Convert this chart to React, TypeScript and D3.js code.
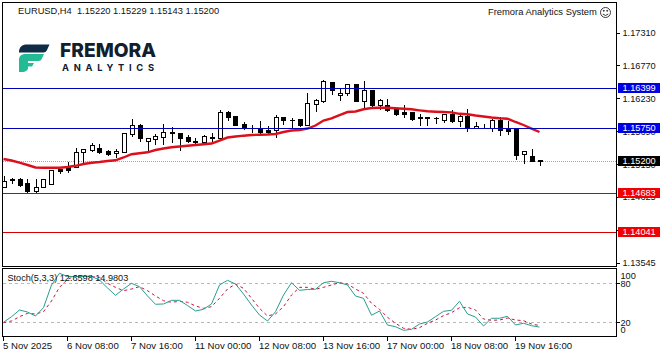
import React from "react";
import * as d3 from "d3";

const opens = [1.14786,1.14912,1.14912,1.14842,1.14721,1.14786,1.14825,1.15076,1.15113,1.15113,1.15346,1.15387,1.15414,1.1537,1.15333,1.15359,1.15648,1.15791,1.15529,1.15562,1.15604,1.15676,1.1566,1.15594,1.15517,1.15522,1.15604,1.15588,1.16008,1.15938,1.15807,1.15742,1.1573,1.15714,1.15709,1.15927,1.15882,1.15894,1.15801,1.16144,1.16188,1.16504,1.16282,1.16324,1.16462,1.16193,1.16368,1.16128,1.16123,1.16053,1.16008,1.16008,1.15922,1.15927,1.15913,1.15877,1.15976,1.15866,1.15948,1.15742,1.15742,1.15751,1.15877,1.15742,1.15742,1.15316,1.15288,1.1522];
const highs = [1.14977,1.14937,1.1494,1.14923,1.14923,1.14923,1.15071,1.15076,1.15211,1.15431,1.15414,1.15513,1.15496,1.15398,1.15424,1.15686,1.15905,1.15824,1.15594,1.1566,1.15824,1.15779,1.15686,1.15648,1.15594,1.15643,1.15686,1.16058,1.16041,1.15938,1.15856,1.15807,1.15877,1.15791,1.15976,1.15932,1.15932,1.15915,1.16331,1.16237,1.16548,1.16521,1.16422,1.16478,1.16478,1.16532,1.16368,1.16242,1.16233,1.16069,1.16139,1.1603,1.15987,1.15932,1.15943,1.15987,1.16053,1.15987,1.16069,1.15861,1.15833,1.15905,1.15948,1.15873,1.15742,1.15387,1.15424,1.15229];
const lows = [1.14786,1.14847,1.14802,1.14704,1.14688,1.14776,1.14825,1.15015,1.15031,1.15113,1.15179,1.15375,1.15342,1.15305,1.15277,1.15359,1.15616,1.15539,1.15375,1.15485,1.15485,1.15522,1.15387,1.15522,1.15468,1.15506,1.15539,1.15588,1.15877,1.15801,1.15735,1.15681,1.1566,1.1566,1.15604,1.15812,1.15768,1.15784,1.15801,1.1603,1.16172,1.16298,1.16205,1.16282,1.16193,1.16069,1.16069,1.16058,1.1603,1.15954,1.15932,1.15877,1.15796,1.15796,1.15828,1.1584,1.1585,1.15784,1.15702,1.15742,1.15742,1.15697,1.15632,1.15653,1.15239,1.15169,1.15211,1.15143];
const closes = [1.14884,1.14899,1.14814,1.14721,1.14786,1.14907,1.15059,1.15043,1.15059,1.15349,1.15398,1.15468,1.15349,1.15321,1.1537,1.1566,1.15791,1.15588,1.15578,1.15616,1.15676,1.1566,1.15583,1.15534,1.15529,1.15611,1.15588,1.16003,1.15932,1.15801,1.15747,1.15741,1.15681,1.15681,1.15922,1.15882,1.15873,1.15796,1.16151,1.162,1.16516,1.16363,1.16314,1.16462,1.16193,1.16368,1.16123,1.162,1.16041,1.15971,1.15981,1.15889,1.15905,1.15905,1.15904,1.15971,1.15856,1.15948,1.15742,1.15774,1.15751,1.15873,1.15714,1.15702,1.15305,1.1537,1.15211,1.152];
const movingAverage = [1.15239,1.15215,1.15179,1.15141,1.151,1.15095,1.15095,1.15097,1.15108,1.15128,1.15157,1.15177,1.1519,1.15207,1.15218,1.15264,1.15318,1.15334,1.15349,1.15387,1.15411,1.15431,1.15444,1.15457,1.15468,1.15481,1.15493,1.15542,1.15591,1.15607,1.15621,1.15632,1.15637,1.1564,1.15648,1.15681,1.15706,1.15714,1.15738,1.15787,1.15869,1.15905,1.15959,1.16008,1.16017,1.16054,1.16074,1.16077,1.16079,1.16071,1.16062,1.16053,1.16036,1.1602,1.16013,1.16008,1.16003,1.15979,1.15971,1.15951,1.15935,1.15918,1.15907,1.15899,1.15845,1.15796,1.15738,1.15681];
const stochMain = [20,28.6,38.9,35.8,29.7,42.5,77.4,95.4,90.5,90.5,90.5,90.5,85.1,72.8,61.5,71.2,80,74.8,60.5,47.7,48.2,53.8,53.8,45.8,37.4,40,48.2,77.4,84.6,78.9,63.5,46.6,31.2,22,36.3,62,80.9,69.2,70.5,70.8,80.9,83.1,80.9,77.4,60.5,56.9,30.8,37.4,15.8,13.2,7.7,9.2,17.4,20.5,28.6,36.9,38.5,52.3,32.8,28.2,14.3,26.2,26.2,29.2,15.8,18.5,14.8,12.66];
const stochSignal = [19.4,22,28.6,33.8,32.8,36.3,52.8,73.8,86.2,91.2,91.2,90.2,89.2,80,73.8,68.6,71.2,74.8,68.6,60.5,53.2,50.8,52.3,50.8,45.1,41.5,44,56.9,71.2,78.9,72.3,56.9,41.5,29.7,32.8,44,62,73.8,73.8,70.8,73.8,77.4,80.9,78.9,71.2,64.6,49.2,40,27.7,18.5,10.8,9.2,11.7,18.5,23.5,30.2,34.8,42.5,43.1,38.9,25.1,23.1,23.5,26.6,23.5,22.5,17.4,14.98];
const priceTicks = ["1.17310","1.16770","1.16230","1.15690","1.15150","1.14625","1.14085","1.13545"];
const blueLevels = [1.16399, 1.1575];
const redLevels = [1.14683, 1.14041];
const lastPrice = 1.152;
const timeLabels = ["5 Nov 2025","6 Nov 08:00","7 Nov 16:00","11 Nov 00:00","12 Nov 08:00","13 Nov 16:00","17 Nov 00:00","18 Nov 08:00","19 Nov 16:00"];
const timeTickEvery = 8;
const stochLevels = [80, 20];
const stochTicks = [{ label: "100", y: 275.5 }, { label: "80", y: 283.5 }, { label: "20", y: 322.5 }, { label: "0", y: 330 }];

const W = 662, H = 357;
const L = 2.5, R = 616.5, T = 2.5, MB = 266.5, ST = 268.5, SB = 336.5;
const FONT = "'Liberation Sans', Arial, sans-serif";
const FS = 9.6;
const FS_PRICE = 9.2;

const x = d3.scaleLinear().domain([0, 67]).range([3.5, 539.5]);
const y = d3.scaleLinear().domain([1.1731, 1.152]).range([32.5, 161.4]);
const s = d3.scaleLinear().domain([0, 100]).range([335.3, 270.3]);
const px = (v: number) => Math.round(v) + 0.5;
const idx = d3.range(opens.length);

const maLine = d3.line<number>().x((_, i) => x(i)).y((d) => y(d)).curve(d3.curveLinear);
const stLine = d3.line<number>().x((_, i) => x(i)).y((d) => s(d)).curve(d3.curveLinear);

function Tag({ value, fill }: { value: number; fill: string }) {
  const cy = px(y(value));
  return (
    <g>
      <rect x={618} y={cy - 5.5} width={42} height={10} fill={fill} />
      <text x={622.5} y={cy - 0.5} dominantBaseline="central" fontSize={FS_PRICE} fill="#fff" fontFamily={FONT}>
        {value.toFixed(5)}
      </text>
    </g>
  );
}

export default function App() {
  return (
    <svg width={W} height={H} viewBox={`0 0 ${W} ${H}`} style={{ position: "absolute", left: 0, top: 0, display: "block", background: "#fff" }}>
      {/* last price dotted */}
      <line x1={L} x2={R} y1={px(y(lastPrice))} y2={px(y(lastPrice))} stroke="#a8a8a8" strokeDasharray="1 1" shapeRendering="crispEdges" />

      {/* candles */}
      <g shapeRendering="crispEdges">
        {idx.map((i) => {
          const up = closes[i] >= opens[i];
          const top = px(y(Math.max(opens[i], closes[i])));
          const bot = px(y(Math.min(opens[i], closes[i])));
          const cx = Math.round(x(i)) + 0.5;
          return (
            <g key={i}>
              <line x1={cx} x2={cx} y1={px(y(highs[i]))} y2={px(y(lows[i]))} stroke="#000" />
              {top === bot ? (
                <line x1={cx - 2.5} x2={cx + 2.5} y1={top} y2={top} stroke="#000" />
              ) : (
                <rect x={cx - 2} y={top} width={4} height={bot - top} fill={up ? "#fff" : "#000"} stroke="#000" />
              )}
            </g>
          );
        })}
      </g>

      {/* moving average */}
      <path d={maLine(movingAverage) ?? ""} fill="none" stroke="#dc0f1c" strokeWidth={2.4} />

      {/* horizontal levels */}
      <g shapeRendering="crispEdges">
        {blueLevels.map((v) => (
          <line key={v} x1={L} x2={R} y1={px(y(v))} y2={px(y(v))} stroke="#0000b4" />
        ))}
        {redLevels.map((v) => (
          <line key={v} x1={L} x2={R} y1={px(y(v))} y2={px(y(v))} stroke="#d40000" />
        ))}
      </g>

      {/* logo */}
      <g>
        <path d="M19 52.5 C19 47 22 44.5 27 44.5 L49.5 44.5 L47 50 C46.4 51.6 45.4 52.5 43.5 52.5 Z" fill="#0f2b46" />
        <path d="M19 72 L19 60 C19 56 21.5 54 25.5 54 L44 54 L41.6 59.3 C41 60.6 40 61 38.5 61 L28 61 L28 63 L34 63 L32 66.5 L28 66.5 L28 68 C28 70.5 25 72 22 72 Z" fill="#22bb94" />
        <text x={60} y={57} fontFamily="Inter, 'Liberation Sans', sans-serif" fontWeight={800} fontSize={19.2} fill="#10202e">FREMORA</text>
        <text x={62} y={71} fontFamily="Inter, 'Liberation Sans', sans-serif" fontWeight={700} fontSize={9.3} letterSpacing={4.75} fill="#10202e">ANALYTICS</text>
      </g>

      {/* header */}
      <text x={18} y={10.5} dominantBaseline="central" fontSize={9.3} fontFamily={FONT} fill="#111" xmlSpace="preserve">
        {`EURUSD,H4  ${opens[67].toFixed(5)} ${highs[67].toFixed(5)} ${lows[67].toFixed(5)} ${closes[67].toFixed(5)}`}
      </text>
      <text x={488} y={11.5} dominantBaseline="central" fontSize={9.4} fontFamily={FONT} fill="#111">Fremora Analytics System</text>
      <g fill="none" stroke="#222" strokeWidth={0.9}>
        <circle cx={605.5} cy={12.5} r={5} />
        <path d="M602.8 14 Q605.5 17 608.2 14" />
        <circle cx={603.8} cy={10.8} r={0.5} fill="#222" />
        <circle cx={607.2} cy={10.8} r={0.5} fill="#222" />
      </g>

      {/* stochastic */}
      <g shapeRendering="crispEdges">
        {stochLevels.map((v) => (
          <line key={v} x1={L} x2={R} y1={px(s(v))} y2={px(s(v))} stroke="#b8b8b8" strokeDasharray="3 3" />
        ))}
      </g>
      <path d={stLine(stochSignal) ?? ""} fill="none" stroke="#c8143c" strokeWidth={1} strokeDasharray="3 3" />
      <path d={stLine(stochMain) ?? ""} fill="none" stroke="#2a9d8f" strokeWidth={1} />
      <text x={7.5} y={277.5} dominantBaseline="central" fontSize={9.15} fontFamily={FONT} fill="#111">Stoch(5,3,3) 12.6598 14.9803</text>

      {/* frames */}
      <g fill="none" stroke="#000" shapeRendering="crispEdges">
        <rect x={L} y={T} width={R - L} height={MB - T} />
        <rect x={L} y={ST} width={R - L} height={SB - ST} />
      </g>

      {/* price axis */}
      {priceTicks.map((t) => {
        const py = y(+t);
        return (
          <g key={t}>
            <line x1={R} x2={R + 3} y1={px(py)} y2={px(py)} stroke="#000" shapeRendering="crispEdges" />
            <text x={622.5} y={py + 0.5} dominantBaseline="central" fontSize={FS_PRICE} fontFamily={FONT} fill="#111">{t}</text>
          </g>
        );
      })}
      {blueLevels.map((v) => <Tag key={v} value={v} fill="#0000e6" />)}
      <Tag value={lastPrice} fill="#000" />
      {redLevels.map((v) => <Tag key={v} value={v} fill="#f00000" />)}

      {/* stochastic axis */}
      {stochTicks.map((t) => (
        <text key={t.label} x={620.5} y={t.y} dominantBaseline="central" fontSize={FS_PRICE} fontFamily={FONT} fill="#111">{t.label}</text>
      ))}
      {stochLevels.map((v) => (
        <line key={v} x1={R} x2={R + 3} y1={px(s(v))} y2={px(s(v))} stroke="#000" shapeRendering="crispEdges" />
      ))}

      {/* time axis */}
      {timeLabels.map((t, k) => {
        const tx = Math.floor(x(k * timeTickEvery)) + 0.5;
        return (
          <g key={t}>
            <line x1={tx} x2={tx} y1={SB} y2={SB + 4} stroke="#000" shapeRendering="crispEdges" />
            <text x={tx - 0.5} y={345.5} dominantBaseline="central" fontSize={FS} fontFamily={FONT} fill="#111">{t}</text>
          </g>
        );
      })}
    </svg>
  );
}
